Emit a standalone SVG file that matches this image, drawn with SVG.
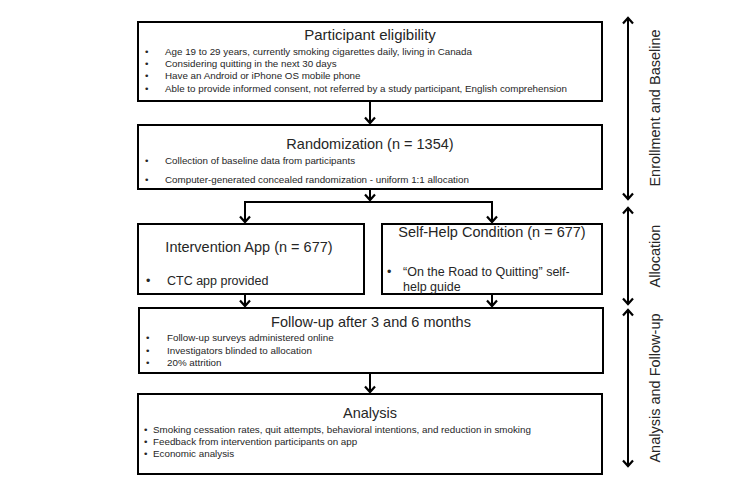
<svg xmlns="http://www.w3.org/2000/svg" width="733" height="480" viewBox="0 0 733 480">
<style>
.box{fill:#fff;stroke:#000;stroke-width:2}
.t{font-family:"Liberation Sans",Arial,sans-serif;fill:#262626}
.title{font-size:14.5px;text-anchor:middle}
.b{font-size:9.8px}
.m{font-size:12.5px}
.side{font-family:"Liberation Sans",Arial,sans-serif;font-size:14.5px;text-anchor:middle;fill:#262626}
.ln{stroke:#000;stroke-width:2;fill:none}
</style>
<defs>
<marker id="ah" markerUnits="userSpaceOnUse" markerWidth="14" markerHeight="14" viewBox="-8 -7 10 14" refX="0" refY="0" orient="auto-start-reverse">
<path d="M-5.5,-5 L0,0 L-5.5,5" fill="none" stroke="#000" stroke-width="2.2"/>
</marker>
</defs>
<g id="connectors">
<line class="ln" x1="370" y1="102" x2="370" y2="123" marker-end="url(#ah)"/>
<line class="ln" x1="370" y1="190" x2="370" y2="200" marker-end="url(#ah)"/>
<polyline class="ln" points="245,222 245,202 492,202 492,222"/>
<line class="ln" x1="245" y1="210" x2="245" y2="222" marker-end="url(#ah)"/>
<line class="ln" x1="492" y1="210" x2="492" y2="222" marker-end="url(#ah)"/>
<line class="ln" x1="245" y1="295" x2="245" y2="306" marker-end="url(#ah)"/>
<line class="ln" x1="492" y1="295" x2="492" y2="306" marker-end="url(#ah)"/>
<line class="ln" x1="370" y1="374" x2="370" y2="392" marker-end="url(#ah)"/>
<line class="ln" x1="628" y1="18" x2="628" y2="199" marker-start="url(#ah)" marker-end="url(#ah)"/>
<line class="ln" x1="628" y1="208" x2="628" y2="304" marker-start="url(#ah)" marker-end="url(#ah)"/>
<line class="ln" x1="628" y1="310" x2="628" y2="466" marker-start="url(#ah)" marker-end="url(#ah)"/>
</g>
<g id="eligibility">
<rect class="box" x="138" y="22" width="464" height="79"/>
<text class="t title" x="370" y="40" style="font-size:15px">Participant eligibility</text>
<text class="t b" x="145" y="55">•</text><text class="t b" x="165" y="55">Age 19 to 29 years, currently smoking cigarettes daily, living in Canada</text>
<text class="t b" x="145" y="67">•</text><text class="t b" x="165" y="67">Considering quitting in the next 30 days</text>
<text class="t b" x="145" y="79">•</text><text class="t b" x="165" y="79">Have an Android or iPhone OS mobile phone</text>
<text class="t b" x="145" y="91.5">•</text><text class="t b" x="165" y="91.5">Able to provide informed consent,  not referred by a study participant, English comprehension</text>
</g>
<g id="randomization">
<rect class="box" x="138" y="125" width="464" height="64"/>
<text class="t title" x="370" y="149">Randomization (n = 1354)</text>
<text class="t b" x="145" y="164">•</text><text class="t b" x="165" y="164">Collection of baseline data from participants</text>
<text class="t b" x="145" y="183">•</text><text class="t b" x="165" y="183">Computer-generated  concealed randomization  - uniform  1:1 allocation</text>
</g>
<g id="intervention">
<rect class="box" x="138" y="224" width="226" height="70"/>
<text class="t title" x="249" y="252">Intervention App (n = 677)</text>
<text class="t m" x="146" y="285">•</text><text class="t m" x="167" y="285">CTC app provided</text>
</g>
<g id="selfhelp">
<rect class="box" x="382" y="224" width="220" height="70"/>
<text class="t title" x="492" y="237">Self-Help Condition (n = 677)</text>
<text class="t m" x="387" y="276">•</text><text class="t m" x="403" y="276">“On the Road to Quitting” self-</text>
<text class="t m" x="403" y="290.5">help guide</text>
</g>
<g id="followup">
<rect class="box" x="139" y="308" width="464" height="65"/>
<text class="t title" x="371" y="327">Follow-up after 3 and 6 months</text>
<text class="t b" x="146" y="341">•</text><text class="t b" x="167" y="341">Follow-up  surveys administered online</text>
<text class="t b" x="146" y="353.5">•</text><text class="t b" x="167" y="353.5">Investigators blinded to allocation</text>
<text class="t b" x="146" y="366">•</text><text class="t b" x="167" y="366">20% attrition</text>
</g>
<g id="analysis">
<rect class="box" x="138" y="394" width="464" height="80"/>
<text class="t title" x="370" y="418">Analysis</text>
<text class="t b" x="144" y="433">•</text><text class="t b" x="153" y="433">Smoking  cessation rates, quit attempts, behavioral intentions, and reduction in smoking</text>
<text class="t b" x="144" y="445">•</text><text class="t b" x="153" y="445">Feedback from intervention participants on app</text>
<text class="t b" x="144" y="457">•</text><text class="t b" x="153" y="457">Economic analysis</text>
</g>
<g id="phases">
<text class="side" x="660" y="108" transform="rotate(-90 660 108)">Enrollment and Baseline</text>
<text class="side" x="660" y="256" transform="rotate(-90 660 256)">Allocation</text>
<text class="side" x="660" y="388" transform="rotate(-90 660 388)">Analysis and Follow-up</text>
</g>
</svg>
